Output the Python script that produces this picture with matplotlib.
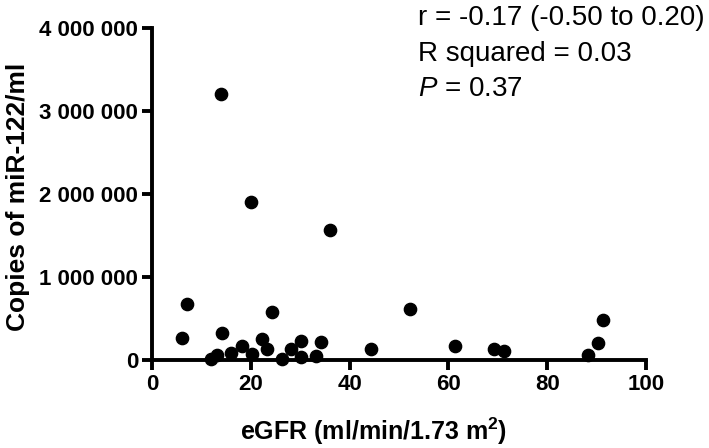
import matplotlib
matplotlib.use("Agg")
import matplotlib.pyplot as plt
from matplotlib.ticker import FuncFormatter

plt.rcParams["font.family"] = ["Liberation Sans", "DejaVu Sans"]
plt.rcParams["mathtext.fontset"] = "custom"
plt.rcParams["mathtext.rm"] = "Liberation Sans"
plt.rcParams["mathtext.it"] = "Liberation Sans:italic"
plt.rcParams["mathtext.bf"] = "Liberation Sans:bold"

# eGFR vs copies of miR-122
egfr = [7.1, 6.1, 14.1, 24.2, 11.9, 13.2, 16.0, 18.2, 20.2, 22.2, 23.2, 26.3,
        28.1, 30.2, 30.2, 33.1, 34.2, 44.3, 52.2, 61.3, 69.2, 71.3, 88.3,
        90.2, 91.3, 14.0, 20.0, 36.0]
copies = [680000, 260000, 330000, 575000, 10000, 60000, 90000, 170000, 70000,
          250000, 130000, 10000, 130000, 230000, 40000, 50000, 220000, 130000,
          620000, 170000, 130000, 110000, 60000, 200000, 480000, 3200000,
          1900000, 1570000]

x_ticks = [0, 20, 40, 60, 80, 100]
y_ticks = [0, 1000000, 2000000, 3000000, 4000000]

stats_lines = ["r = -0.17 (-0.50 to 0.20)", "R squared = 0.03", r"$\it{P}$ = 0.37"]

fig = plt.figure(figsize=(7.09, 4.48), dpi=100)
ax = fig.add_axes([152 / 709, 88 / 448, 494 / 709, 332 / 448])

ax.scatter(egfr, copies, s=78, color="black", zorder=3, clip_on=False)

ax.set_xlim(0, 100)
ax.set_ylim(0, 4000000)
ax.set_xticks(x_ticks)
ax.set_yticks(y_ticks)
ax.yaxis.set_major_formatter(FuncFormatter(lambda v, p: "{:,}".format(int(v)).replace(",", " ")))

for s in ["top", "right"]:
    ax.spines[s].set_visible(False)
for s in ["left", "bottom"]:
    ax.spines[s].set_linewidth(2.8)

ax.tick_params(width=2.8, length=7, labelsize=16, pad=3)
for lab in ax.get_xticklabels() + ax.get_yticklabels():
    lab.set_fontweight("bold")

ax.set_xlabel(r"eGFR (ml/min/1.73 m$^{\mathbf{2}}$)", fontsize=18, fontweight="bold", va="top")
ax.xaxis.set_label_coords(0.449, -0.168)
ax.set_ylabel("Copies of miR-122/ml", fontsize=19, fontweight="bold", va="top")
ax.yaxis.set_label_coords(-0.296, 0.49)

baselines = [25, 61, 96]
for line, b in zip(stats_lines, baselines):
    fig.text(418 / 709, 1 - b / 448, line, fontsize=20, va="baseline", ha="left")

fig.savefig("out.png", dpi=100)
